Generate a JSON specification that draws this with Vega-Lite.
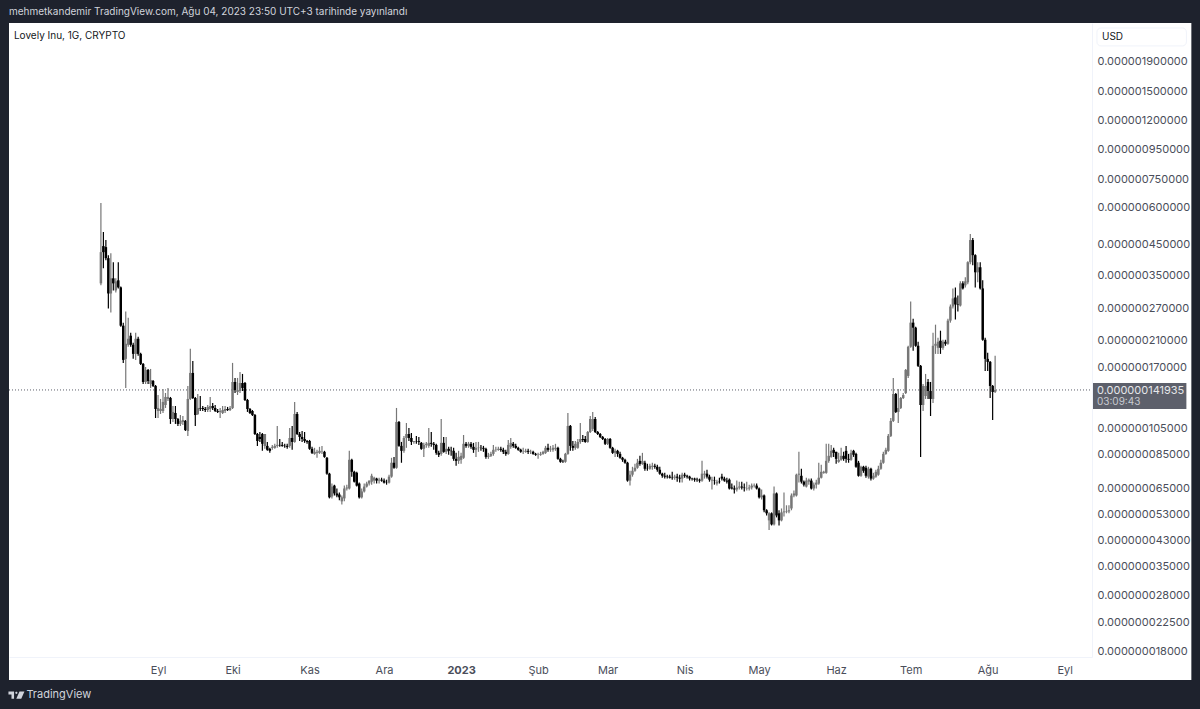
{
  "$schema": "https://vega.github.io/schema/vega-lite/v5.json",
  "width": 1083,
  "height": 634,
  "autosize": "none",
  "padding": {"left": 9, "top": 23, "right": 108, "bottom": 52},
  "background": "#1e222d",
  "title": {
    "text": "mehmetkandemir TradingView.com, Ağu 04, 2023 23:50 UTC+3 tarihinde yayınlandı",
    "anchor": "start",
    "frame": "group",
    "offset": 6,
    "font": "Inter",
    "fontSize": 10,
    "fontWeight": "normal",
    "color": "#d1d4dc"
  },
  "config": {"view": {"stroke": null}},
  "datasets": {
    "candles": [
      {"d":"2022-08-09","o":329.8,"h":623,"l":324.6,"c":422.2},
      {"d":"2022-08-10","o":442.9,"h":495,"l":371.7,"c":422.2},
      {"d":"2022-08-11","o":439.4,"h":464.6,"l":396.1,"c":402.5},
      {"d":"2022-08-12","o":402.5,"h":412.2,"l":270.2,"c":304.5},
      {"d":"2022-08-13","o":304.5,"h":418.9,"l":261.8,"c":343.2},
      {"d":"2022-08-14","o":343.2,"h":389.9,"l":311.9,"c":329.8},
      {"d":"2022-08-15","o":311.9,"h":343.2,"l":307,"c":335.1},
      {"d":"2022-08-16","o":337.8,"h":389.9,"l":316.9,"c":319.5},
      {"d":"2022-08-17","o":319.5,"h":322,"l":234.2,"c":236},
      {"d":"2022-08-18","o":236,"h":241.7,"l":175.8,"c":180},
      {"d":"2022-08-19","o":181.5,"h":263.9,"l":144.2,"c":204.5},
      {"d":"2022-08-20","o":202.9,"h":251.5,"l":199.7,"c":212.8},
      {"d":"2022-08-21","o":218,"h":223.2,"l":199.7,"c":202.9},
      {"d":"2022-08-22","o":202.9,"h":206.2,"l":181.5,"c":188.8},
      {"d":"2022-08-23","o":188.8,"h":223.2,"l":180,"c":212.8},
      {"d":"2022-08-24","o":212.8,"h":216.2,"l":185.9,"c":188.8},
      {"d":"2022-08-25","o":188.8,"h":190.4,"l":173,"c":174.4},
      {"d":"2022-08-26","o":174.4,"h":175.8,"l":148.8,"c":151.2},
      {"d":"2022-08-27","o":151.2,"h":170.3,"l":148.8,"c":166.3},
      {"d":"2022-08-28","o":166.3,"h":167.6,"l":148.8,"c":152.4},
      {"d":"2022-08-29","o":148.8,"h":167.6,"l":144.2,"c":153.6},
      {"d":"2022-08-30","o":152.4,"h":153.6,"l":145.3,"c":146.5},
      {"d":"2022-08-31","o":146.5,"h":147.6,"l":113.7,"c":122.1},
      {"d":"2022-09-01","o":120.2,"h":136.4,"l":113.7,"c":123.1},
      {"d":"2022-09-02","o":120.2,"h":132.2,"l":117.4,"c":122.1},
      {"d":"2022-09-03","o":120.2,"h":143,"l":118.3,"c":129.1},
      {"d":"2022-09-04","o":126,"h":138.6,"l":123.1,"c":134.3},
      {"d":"2022-09-05","o":132.2,"h":144.2,"l":130.1,"c":134.3},
      {"d":"2022-09-06","o":133.2,"h":134.3,"l":108.5,"c":112.8},
      {"d":"2022-09-07","o":112.8,"h":125,"l":110.2,"c":119.3},
      {"d":"2022-09-08","o":118.3,"h":125,"l":108.5,"c":112.8},
      {"d":"2022-09-09","o":112.8,"h":113.7,"l":106.8,"c":108.5},
      {"d":"2022-09-10","o":108.5,"h":116.4,"l":106.8,"c":111.1},
      {"d":"2022-09-11","o":110.2,"h":115.5,"l":107.6,"c":111.9},
      {"d":"2022-09-12","o":111.1,"h":111.9,"l":102.6,"c":103.4},
      {"d":"2022-09-13","o":102.6,"h":146.5,"l":98.7,"c":132.2},
      {"d":"2022-09-14","o":132.2,"h":196.5,"l":131.1,"c":162.4},
      {"d":"2022-09-15","o":162.4,"h":178.6,"l":132.2,"c":133.2},
      {"d":"2022-09-16","o":133.2,"h":134.3,"l":106.8,"c":116.4},
      {"d":"2022-09-17","o":117.4,"h":137.5,"l":116.4,"c":123.1},
      {"d":"2022-09-18","o":123.1,"h":135.3,"l":120.2,"c":122.6},
      {"d":"2022-09-19","o":123.1,"h":125,"l":120.2,"c":122.1},
      {"d":"2022-09-20","o":122.1,"h":124.1,"l":119.3,"c":121.1},
      {"d":"2022-09-21","o":121.1,"h":126,"l":119.3,"c":124.1},
      {"d":"2022-09-22","o":122.1,"h":134.3,"l":119.3,"c":125},
      {"d":"2022-09-23","o":125,"h":128.1,"l":121.1,"c":123.1},
      {"d":"2022-09-24","o":123.1,"h":126,"l":119.3,"c":120.2},
      {"d":"2022-09-25","o":120.2,"h":122.1,"l":118.3,"c":119.3},
      {"d":"2022-09-26","o":119.3,"h":123.1,"l":113.7,"c":120.2},
      {"d":"2022-09-27","o":118.3,"h":125,"l":117.4,"c":121.1},
      {"d":"2022-09-28","o":120.2,"h":125,"l":118.3,"c":122.1},
      {"d":"2022-09-29","o":122.1,"h":124.1,"l":120.2,"c":121.1},
      {"d":"2022-09-30","o":121.1,"h":125,"l":120.2,"c":123.1},
      {"d":"2022-10-01","o":123.1,"h":175.8,"l":122.1,"c":151.2},
      {"d":"2022-10-02","o":151.2,"h":156.1,"l":138.6,"c":141.9},
      {"d":"2022-10-03","o":139.7,"h":156.1,"l":136.4,"c":141.9},
      {"d":"2022-10-04","o":140.8,"h":163.7,"l":138.6,"c":150},
      {"d":"2022-10-05","o":150,"h":161.1,"l":140.8,"c":144.2},
      {"d":"2022-10-06","o":150,"h":151.2,"l":130.1,"c":131.1},
      {"d":"2022-10-07","o":131.1,"h":132.2,"l":119.3,"c":122.1},
      {"d":"2022-10-08","o":122.1,"h":123.1,"l":117.4,"c":118.3},
      {"d":"2022-10-09","o":120.2,"h":121.1,"l":115.5,"c":116.4},
      {"d":"2022-10-10","o":116.4,"h":117.4,"l":99.4,"c":100.2},
      {"d":"2022-10-11","o":100.2,"h":101,"l":91.2,"c":94.8},
      {"d":"2022-10-12","o":97.9,"h":101.8,"l":94.1,"c":96.3},
      {"d":"2022-10-13","o":100.2,"h":101,"l":87.7,"c":92.7},
      {"d":"2022-10-14","o":91.2,"h":100.2,"l":89.1,"c":100.2},
      {"d":"2022-10-15","o":91.2,"h":94.1,"l":87.7,"c":88.4},
      {"d":"2022-10-16","o":89.1,"h":89.8,"l":86.3,"c":87.7},
      {"d":"2022-10-17","o":89.8,"h":91.9,"l":88.4,"c":90.5},
      {"d":"2022-10-18","o":89.8,"h":92.7,"l":89.1,"c":91.2},
      {"d":"2022-10-19","o":91.2,"h":106.8,"l":89.8,"c":91.9},
      {"d":"2022-10-20","o":91.9,"h":96.3,"l":90.5,"c":91.6},
      {"d":"2022-10-21","o":91.9,"h":94.1,"l":90.5,"c":91.2},
      {"d":"2022-10-22","o":91.2,"h":92.7,"l":89.8,"c":91},
      {"d":"2022-10-23","o":91.2,"h":92.7,"l":89.1,"c":90.5},
      {"d":"2022-10-24","o":91.2,"h":105.1,"l":89.8,"c":97.1},
      {"d":"2022-10-25","o":97.1,"h":106.8,"l":88.4,"c":94.1},
      {"d":"2022-10-26","o":94.1,"h":129.1,"l":93.4,"c":117.4},
      {"d":"2022-10-27","o":117.4,"h":119.3,"l":99.4,"c":100.2},
      {"d":"2022-10-28","o":100.2,"h":101.8,"l":94.8,"c":97.9},
      {"d":"2022-10-29","o":97.9,"h":102.6,"l":94.1,"c":96.3},
      {"d":"2022-10-30","o":96.3,"h":101.8,"l":93.4,"c":94.8},
      {"d":"2022-10-31","o":94.8,"h":95.6,"l":92.7,"c":94.1},
      {"d":"2022-11-01","o":94.8,"h":95.6,"l":88.4,"c":89.1},
      {"d":"2022-11-02","o":89.1,"h":90.5,"l":85.6,"c":86.3},
      {"d":"2022-11-03","o":85.6,"h":89.8,"l":85,"c":87},
      {"d":"2022-11-04","o":86.3,"h":88.4,"l":83,"c":87},
      {"d":"2022-11-05","o":86.3,"h":90.5,"l":85.6,"c":87.7},
      {"d":"2022-11-06","o":87,"h":91.2,"l":85.6,"c":87.2},
      {"d":"2022-11-07","o":87,"h":87.7,"l":83,"c":83.6},
      {"d":"2022-11-08","o":83,"h":83.6,"l":72.6,"c":73.2},
      {"d":"2022-11-09","o":73.2,"h":73.7,"l":60.2,"c":60.7},
      {"d":"2022-11-10","o":61.1,"h":67.7,"l":60.2,"c":66.1},
      {"d":"2022-11-11","o":66.6,"h":67.1,"l":61.6,"c":62.6},
      {"d":"2022-11-12","o":62.6,"h":65.1,"l":60.7,"c":61.6},
      {"d":"2022-11-13","o":62.1,"h":63.1,"l":59.3,"c":60.7},
      {"d":"2022-11-14","o":58.8,"h":61.6,"l":57.4,"c":60.7},
      {"d":"2022-11-15","o":60.2,"h":66.6,"l":58.8,"c":65.1},
      {"d":"2022-11-16","o":65.1,"h":67.1,"l":64.1,"c":65.6},
      {"d":"2022-11-17","o":65.1,"h":87.7,"l":64.6,"c":81.7},
      {"d":"2022-11-18","o":81.7,"h":82.3,"l":71.5,"c":74.3},
      {"d":"2022-11-19","o":74.3,"h":74.9,"l":68.2,"c":68.7},
      {"d":"2022-11-20","o":73.7,"h":74.3,"l":66.1,"c":66.6},
      {"d":"2022-11-21","o":67.7,"h":68.2,"l":60.2,"c":60.7},
      {"d":"2022-11-22","o":60.7,"h":65.1,"l":60.2,"c":63.6},
      {"d":"2022-11-23","o":63.6,"h":67.7,"l":63.1,"c":66.1},
      {"d":"2022-11-24","o":66.1,"h":68.7,"l":65.6,"c":67.7},
      {"d":"2022-11-25","o":67.7,"h":69.3,"l":66.6,"c":69.3},
      {"d":"2022-11-26","o":68.7,"h":73.2,"l":67.1,"c":72},
      {"d":"2022-11-27","o":69.3,"h":71.5,"l":67.7,"c":70.9},
      {"d":"2022-11-28","o":70.4,"h":70.9,"l":67.7,"c":69.3},
      {"d":"2022-11-29","o":69.3,"h":70.9,"l":67.7,"c":69.8},
      {"d":"2022-11-30","o":69.8,"h":70.9,"l":68.7,"c":69.3},
      {"d":"2022-12-01","o":69.3,"h":70.4,"l":67.7,"c":68.2},
      {"d":"2022-12-02","o":68.2,"h":69.8,"l":67.1,"c":68.1},
      {"d":"2022-12-03","o":68.2,"h":72.6,"l":67.7,"c":71.5},
      {"d":"2022-12-04","o":71.5,"h":83,"l":70.9,"c":79.8},
      {"d":"2022-12-05","o":79.8,"h":83.6,"l":76.1,"c":76.7},
      {"d":"2022-12-06","o":76.7,"h":123.1,"l":76.1,"c":110.2},
      {"d":"2022-12-07","o":110.2,"h":111.1,"l":90.5,"c":91.2},
      {"d":"2022-12-08","o":91.2,"h":94.1,"l":79.8,"c":87.7},
      {"d":"2022-12-09","o":87.7,"h":98.7,"l":86.3,"c":97.1},
      {"d":"2022-12-10","o":97.1,"h":109.3,"l":89.8,"c":100.2},
      {"d":"2022-12-11","o":100.2,"h":105.1,"l":94.8,"c":97.1},
      {"d":"2022-12-12","o":97.1,"h":101,"l":91.9,"c":94.1},
      {"d":"2022-12-13","o":94.1,"h":94.8,"l":92.7,"c":94.8},
      {"d":"2022-12-14","o":94.8,"h":98.7,"l":92.7,"c":94.6},
      {"d":"2022-12-15","o":94.8,"h":97.9,"l":91.9,"c":94.1},
      {"d":"2022-12-16","o":93.4,"h":94.1,"l":88.4,"c":89.1},
      {"d":"2022-12-17","o":89.1,"h":93.4,"l":83.6,"c":91.9},
      {"d":"2022-12-18","o":91.9,"h":94.1,"l":89.8,"c":92.7},
      {"d":"2022-12-19","o":91.2,"h":105.1,"l":89.8,"c":93.4},
      {"d":"2022-12-20","o":93.4,"h":101.8,"l":90.5,"c":92.7},
      {"d":"2022-12-21","o":92.7,"h":94.1,"l":88.4,"c":91.9},
      {"d":"2022-12-22","o":91.9,"h":92.7,"l":85,"c":86.3},
      {"d":"2022-12-23","o":86.3,"h":87.7,"l":83.6,"c":85},
      {"d":"2022-12-24","o":85.6,"h":112.8,"l":84.3,"c":93.4},
      {"d":"2022-12-25","o":93.4,"h":97.9,"l":86.3,"c":87},
      {"d":"2022-12-26","o":87,"h":97.9,"l":85.6,"c":89.1},
      {"d":"2022-12-27","o":89.1,"h":90.5,"l":85,"c":87.7},
      {"d":"2022-12-28","o":87.7,"h":90.5,"l":84.3,"c":87.5},
      {"d":"2022-12-29","o":87.7,"h":89.8,"l":81,"c":82.3},
      {"d":"2022-12-30","o":82.3,"h":86.3,"l":77.9,"c":81},
      {"d":"2022-12-31","o":81,"h":87.7,"l":79.1,"c":83.6},
      {"d":"2023-01-01","o":81.7,"h":86.3,"l":79.1,"c":84.3},
      {"d":"2023-01-02","o":83,"h":99.4,"l":82.3,"c":92.7},
      {"d":"2023-01-03","o":92.7,"h":94.1,"l":89.8,"c":91.2},
      {"d":"2023-01-04","o":91.2,"h":94.1,"l":89.8,"c":92.7},
      {"d":"2023-01-05","o":92.7,"h":94.1,"l":89.1,"c":90.5},
      {"d":"2023-01-06","o":90.5,"h":93.4,"l":86.3,"c":88.4},
      {"d":"2023-01-07","o":88.4,"h":94.1,"l":83.6,"c":89.8},
      {"d":"2023-01-08","o":89.8,"h":94.1,"l":87,"c":90},
      {"d":"2023-01-09","o":89.8,"h":91.9,"l":87.7,"c":89.6},
      {"d":"2023-01-10","o":89.8,"h":91.2,"l":87,"c":89.1},
      {"d":"2023-01-11","o":89.1,"h":89.8,"l":82.3,"c":83.6},
      {"d":"2023-01-12","o":83.6,"h":86.3,"l":82.3,"c":84.3},
      {"d":"2023-01-13","o":84.3,"h":87,"l":83.6,"c":85.6},
      {"d":"2023-01-14","o":85.6,"h":91.9,"l":84.3,"c":88.4},
      {"d":"2023-01-15","o":88.4,"h":90.5,"l":87,"c":88.6},
      {"d":"2023-01-16","o":88.4,"h":90.5,"l":87.7,"c":89.1},
      {"d":"2023-01-17","o":89.1,"h":90.5,"l":87,"c":88.4},
      {"d":"2023-01-18","o":88.4,"h":89.8,"l":85.6,"c":87},
      {"d":"2023-01-19","o":87,"h":88.4,"l":84.3,"c":85.6},
      {"d":"2023-01-20","o":85.6,"h":95.6,"l":85,"c":91.9},
      {"d":"2023-01-21","o":90.5,"h":97.1,"l":89.1,"c":93.4},
      {"d":"2023-01-22","o":92.7,"h":94.1,"l":89.8,"c":91.2},
      {"d":"2023-01-23","o":91.2,"h":92.7,"l":89.1,"c":89.8},
      {"d":"2023-01-24","o":89.8,"h":90.5,"l":87.7,"c":88.4},
      {"d":"2023-01-25","o":88.4,"h":89.1,"l":86.3,"c":87},
      {"d":"2023-01-26","o":87,"h":89.8,"l":85.6,"c":87.2},
      {"d":"2023-01-27","o":87,"h":89.1,"l":86.3,"c":87.7},
      {"d":"2023-01-28","o":87.7,"h":89.1,"l":85.6,"c":87},
      {"d":"2023-01-29","o":87,"h":88.4,"l":85.6,"c":87.2},
      {"d":"2023-01-30","o":87,"h":87.7,"l":85,"c":85.6},
      {"d":"2023-01-31","o":85.6,"h":86.3,"l":84.3,"c":85},
      {"d":"2023-02-01","o":85,"h":86.3,"l":82.3,"c":85.2},
      {"d":"2023-02-02","o":85,"h":87,"l":84.3,"c":85.6},
      {"d":"2023-02-03","o":85.6,"h":87.7,"l":85,"c":87},
      {"d":"2023-02-04","o":86.3,"h":91.2,"l":85.6,"c":89.8},
      {"d":"2023-02-05","o":89.8,"h":92.7,"l":87,"c":88.4},
      {"d":"2023-02-06","o":88.4,"h":91.2,"l":87,"c":88.6},
      {"d":"2023-02-07","o":88.4,"h":91.9,"l":87,"c":89.8},
      {"d":"2023-02-08","o":89.1,"h":92.7,"l":87.7,"c":89.8},
      {"d":"2023-02-09","o":89.8,"h":90.5,"l":81.7,"c":82.3},
      {"d":"2023-02-10","o":82.3,"h":83,"l":79.8,"c":80.4},
      {"d":"2023-02-11","o":80.4,"h":81.7,"l":79.8,"c":80.2},
      {"d":"2023-02-12","o":80.4,"h":86.3,"l":79.8,"c":85.6},
      {"d":"2023-02-13","o":85.6,"h":118.3,"l":85,"c":106.8},
      {"d":"2023-02-14","o":106.8,"h":107.6,"l":87.7,"c":91.2},
      {"d":"2023-02-15","o":91.2,"h":94.8,"l":87.7,"c":89.8},
      {"d":"2023-02-16","o":89.8,"h":94.8,"l":88.4,"c":92.7},
      {"d":"2023-02-17","o":89.8,"h":96.3,"l":89.1,"c":94.1},
      {"d":"2023-02-18","o":94.1,"h":109.3,"l":92.7,"c":96.3},
      {"d":"2023-02-19","o":96.3,"h":99.4,"l":94.1,"c":95.6},
      {"d":"2023-02-20","o":96.3,"h":98.7,"l":93.4,"c":94.1},
      {"d":"2023-02-21","o":94.1,"h":102.6,"l":93.4,"c":101.8},
      {"d":"2023-02-22","o":101.8,"h":115.5,"l":101,"c":112.8},
      {"d":"2023-02-23","o":104.3,"h":119.3,"l":102.6,"c":112.8},
      {"d":"2023-02-24","o":112.8,"h":114.6,"l":101,"c":101.8},
      {"d":"2023-02-25","o":101.8,"h":102.6,"l":99.4,"c":100.2},
      {"d":"2023-02-26","o":100.2,"h":101,"l":97.1,"c":97.9},
      {"d":"2023-02-27","o":97.9,"h":98.7,"l":95.6,"c":96.3},
      {"d":"2023-02-28","o":96.3,"h":97.1,"l":91.9,"c":92.7},
      {"d":"2023-03-01","o":92.7,"h":97.1,"l":91.9,"c":96.3},
      {"d":"2023-03-02","o":96.3,"h":97.1,"l":89.1,"c":89.8},
      {"d":"2023-03-03","o":89.8,"h":90.5,"l":85.6,"c":86.3},
      {"d":"2023-03-04","o":86.3,"h":89.1,"l":83.6,"c":87.7},
      {"d":"2023-03-05","o":87.7,"h":88.4,"l":83.6,"c":85.6},
      {"d":"2023-03-06","o":85.6,"h":87,"l":82.3,"c":83},
      {"d":"2023-03-07","o":83,"h":83.6,"l":80.4,"c":81.7},
      {"d":"2023-03-08","o":81.7,"h":82.3,"l":79.1,"c":79.8},
      {"d":"2023-03-09","o":79.8,"h":80.4,"l":68.7,"c":69.3},
      {"d":"2023-03-10","o":69.3,"h":74.9,"l":66.6,"c":72.6},
      {"d":"2023-03-11","o":72.6,"h":77.3,"l":71.5,"c":74.9},
      {"d":"2023-03-12","o":74.9,"h":79.1,"l":74.3,"c":76.7},
      {"d":"2023-03-13","o":76.7,"h":82.3,"l":76.1,"c":79.8},
      {"d":"2023-03-14","o":81,"h":84.3,"l":77.9,"c":79.1},
      {"d":"2023-03-15","o":79.1,"h":86.3,"l":78.5,"c":81},
      {"d":"2023-03-16","o":79.8,"h":81,"l":74.9,"c":76.1},
      {"d":"2023-03-17","o":76.1,"h":79.1,"l":74.9,"c":76},
      {"d":"2023-03-18","o":76.1,"h":79.1,"l":75.5,"c":77.9},
      {"d":"2023-03-19","o":77.3,"h":79.8,"l":75.5,"c":77.9},
      {"d":"2023-03-20","o":77.9,"h":79.1,"l":76.1,"c":77.3},
      {"d":"2023-03-21","o":77.3,"h":78.5,"l":74.3,"c":75.5},
      {"d":"2023-03-22","o":75.5,"h":77.3,"l":72.6,"c":73.2},
      {"d":"2023-03-23","o":73.2,"h":73.7,"l":70.9,"c":72},
      {"d":"2023-03-24","o":72,"h":73.7,"l":70.4,"c":71.5},
      {"d":"2023-03-25","o":71.5,"h":72.6,"l":70.4,"c":71.3},
      {"d":"2023-03-26","o":71.5,"h":72.6,"l":70.4,"c":70.9},
      {"d":"2023-03-27","o":70.9,"h":74.3,"l":69.8,"c":70.7},
      {"d":"2023-03-28","o":70.9,"h":72.6,"l":69.8,"c":71.5},
      {"d":"2023-03-29","o":71.5,"h":73.2,"l":68.7,"c":70.9},
      {"d":"2023-03-30","o":70.9,"h":72.6,"l":68.2,"c":70.4},
      {"d":"2023-03-31","o":70.4,"h":73.7,"l":68.2,"c":72.6},
      {"d":"2023-04-01","o":72.6,"h":73.7,"l":70.9,"c":72},
      {"d":"2023-04-02","o":72,"h":72.6,"l":70.4,"c":71.5},
      {"d":"2023-04-03","o":71.5,"h":72,"l":69.3,"c":70.4},
      {"d":"2023-04-04","o":70.4,"h":70.9,"l":69.3,"c":70.2},
      {"d":"2023-04-05","o":70.4,"h":70.9,"l":68.7,"c":69.8},
      {"d":"2023-04-06","o":69.8,"h":70.9,"l":68.7,"c":69.6},
      {"d":"2023-04-07","o":69.8,"h":70.4,"l":68.2,"c":69.3},
      {"d":"2023-04-08","o":69.3,"h":81,"l":68.7,"c":73.2},
      {"d":"2023-04-09","o":72.6,"h":74.9,"l":70.4,"c":73.2},
      {"d":"2023-04-10","o":73.2,"h":75.5,"l":70.4,"c":71.5},
      {"d":"2023-04-11","o":71.5,"h":72.6,"l":68.7,"c":69.8},
      {"d":"2023-04-12","o":69.3,"h":71.5,"l":64.6,"c":69.8},
      {"d":"2023-04-13","o":69.3,"h":71.5,"l":67.1,"c":69.1},
      {"d":"2023-04-14","o":67.7,"h":69.8,"l":66.6,"c":68.7},
      {"d":"2023-04-15","o":68.7,"h":70.9,"l":67.7,"c":68.5},
      {"d":"2023-04-16","o":71.5,"h":73.2,"l":69.3,"c":70.4},
      {"d":"2023-04-17","o":70.4,"h":71.5,"l":68.7,"c":69.3},
      {"d":"2023-04-18","o":69.3,"h":70.9,"l":67.7,"c":68.7},
      {"d":"2023-04-19","o":69.8,"h":70.4,"l":64.6,"c":65.1},
      {"d":"2023-04-20","o":65.6,"h":67.7,"l":64.6,"c":65.1},
      {"d":"2023-04-21","o":65.1,"h":66.6,"l":62.6,"c":64.6},
      {"d":"2023-04-22","o":64.6,"h":69.3,"l":63.6,"c":65.6},
      {"d":"2023-04-23","o":65.6,"h":68.7,"l":64.6,"c":66.1},
      {"d":"2023-04-24","o":66.1,"h":68.7,"l":64.6,"c":65.6},
      {"d":"2023-04-25","o":65.6,"h":67.7,"l":63.6,"c":65.4},
      {"d":"2023-04-26","o":65.1,"h":68.7,"l":64.1,"c":65.3},
      {"d":"2023-04-27","o":65.1,"h":67.1,"l":64.1,"c":65.6},
      {"d":"2023-04-28","o":65.6,"h":67.7,"l":64.6,"c":66.6},
      {"d":"2023-04-29","o":66.6,"h":67.7,"l":65.6,"c":66.8},
      {"d":"2023-04-30","o":66.6,"h":67.7,"l":64.6,"c":65.1},
      {"d":"2023-05-01","o":65.1,"h":65.6,"l":60.2,"c":60.7},
      {"d":"2023-05-02","o":60.7,"h":64.6,"l":59.7,"c":61.6},
      {"d":"2023-05-03","o":61.6,"h":62.1,"l":53.9,"c":54.8},
      {"d":"2023-05-04","o":54.8,"h":55.2,"l":52.6,"c":53.5},
      {"d":"2023-05-05","o":50.6,"h":53.9,"l":46.9,"c":53.5},
      {"d":"2023-05-06","o":53.5,"h":53.9,"l":48.6,"c":49},
      {"d":"2023-05-07","o":49,"h":66.1,"l":48.6,"c":62.6},
      {"d":"2023-05-08","o":62.6,"h":63.1,"l":51.8,"c":52.6},
      {"d":"2023-05-09","o":53.5,"h":54.8,"l":48.6,"c":50.6},
      {"d":"2023-05-10","o":50.6,"h":55.6,"l":50.2,"c":53.9},
      {"d":"2023-05-11","o":53.9,"h":63.1,"l":52.2,"c":54.3},
      {"d":"2023-05-12","o":54.3,"h":57,"l":53.5,"c":54.5},
      {"d":"2023-05-13","o":54.3,"h":57,"l":53.5,"c":54.8},
      {"d":"2023-05-14","o":55.6,"h":62.6,"l":54.8,"c":61.6},
      {"d":"2023-05-15","o":61.6,"h":64.1,"l":60.7,"c":62.6},
      {"d":"2023-05-16","o":61.6,"h":73.2,"l":61.1,"c":72.6},
      {"d":"2023-05-17","o":72.6,"h":87,"l":68.2,"c":73.2},
      {"d":"2023-05-18","o":72,"h":76.1,"l":67.7,"c":68.7},
      {"d":"2023-05-19","o":68.7,"h":69.3,"l":66.1,"c":67.1},
      {"d":"2023-05-20","o":66.1,"h":70.9,"l":65.6,"c":69.3},
      {"d":"2023-05-21","o":68.7,"h":70.4,"l":67.1,"c":69.8},
      {"d":"2023-05-22","o":69.3,"h":70.4,"l":64.6,"c":65.1},
      {"d":"2023-05-23","o":65.1,"h":68.2,"l":64.1,"c":67.1},
      {"d":"2023-05-24","o":67.1,"h":69.8,"l":65.1,"c":68.2},
      {"d":"2023-05-25","o":67.7,"h":79.8,"l":67.1,"c":70.9},
      {"d":"2023-05-26","o":70.9,"h":78.5,"l":70.4,"c":74.3},
      {"d":"2023-05-27","o":73.7,"h":74.9,"l":73.2,"c":74.3},
      {"d":"2023-05-28","o":73.7,"h":92.7,"l":73.2,"c":81},
      {"d":"2023-05-29","o":81,"h":92.7,"l":79.8,"c":84.3},
      {"d":"2023-05-30","o":83.6,"h":91.9,"l":83,"c":87.7},
      {"d":"2023-05-31","o":88.4,"h":89.8,"l":83.6,"c":86.3},
      {"d":"2023-06-01","o":87,"h":87,"l":79.1,"c":82.3},
      {"d":"2023-06-02","o":80.4,"h":86.3,"l":79.8,"c":81.7},
      {"d":"2023-06-03","o":81.7,"h":89.8,"l":81,"c":84.3},
      {"d":"2023-06-04","o":84.3,"h":87,"l":81,"c":82.3},
      {"d":"2023-06-05","o":87.7,"h":91.2,"l":79.8,"c":82.3},
      {"d":"2023-06-06","o":82.3,"h":85.6,"l":79.8,"c":81.7},
      {"d":"2023-06-07","o":81.7,"h":88.4,"l":81,"c":86.3},
      {"d":"2023-06-08","o":87.7,"h":88.4,"l":83.6,"c":85},
      {"d":"2023-06-09","o":85.6,"h":86.3,"l":76.7,"c":77.3},
      {"d":"2023-06-10","o":79.8,"h":81,"l":71.5,"c":72},
      {"d":"2023-06-11","o":72,"h":77.9,"l":71.5,"c":77.3},
      {"d":"2023-06-12","o":77.3,"h":77.9,"l":73.7,"c":74.9},
      {"d":"2023-06-13","o":76.7,"h":77.9,"l":70.9,"c":72},
      {"d":"2023-06-14","o":71.5,"h":77.3,"l":70.4,"c":76.1},
      {"d":"2023-06-15","o":76.1,"h":76.7,"l":69.3,"c":70.4},
      {"d":"2023-06-16","o":70.4,"h":73.7,"l":69.8,"c":72},
      {"d":"2023-06-17","o":71.5,"h":75.5,"l":70.9,"c":74.3},
      {"d":"2023-06-18","o":72.6,"h":77.9,"l":72,"c":76.1},
      {"d":"2023-06-19","o":76.1,"h":81.7,"l":75.5,"c":79.8},
      {"d":"2023-06-20","o":79.8,"h":87,"l":79.1,"c":85.6},
      {"d":"2023-06-21","o":85.6,"h":89.8,"l":85,"c":88.4},
      {"d":"2023-06-22","o":87.7,"h":100.2,"l":87,"c":98.7},
      {"d":"2023-06-23","o":98.7,"h":113.7,"l":97.9,"c":111.1},
      {"d":"2023-06-24","o":111.1,"h":156.1,"l":110.2,"c":137.5},
      {"d":"2023-06-25","o":137.5,"h":138.6,"l":118.3,"c":119.3},
      {"d":"2023-06-26","o":119.3,"h":143,"l":109.3,"c":123.1},
      {"d":"2023-06-27","o":123.1,"h":134.3,"l":122.1,"c":133.2},
      {"d":"2023-06-28","o":133.2,"h":138.6,"l":132.2,"c":136.4},
      {"d":"2023-06-29","o":138.6,"h":167.6,"l":137.5,"c":166.3},
      {"d":"2023-06-30","o":158.6,"h":201.3,"l":156.1,"c":199.7},
      {"d":"2023-07-01","o":199.7,"h":285.8,"l":198.1,"c":241.7},
      {"d":"2023-07-02","o":241.7,"h":249.5,"l":193.4,"c":232.3},
      {"d":"2023-07-03","o":232.3,"h":234.2,"l":199.7,"c":201.3},
      {"d":"2023-07-04","o":201.3,"h":207.8,"l":170.3,"c":171.7},
      {"d":"2023-07-05","o":171.7,"h":173,"l":83.6,"c":126},
      {"d":"2023-07-06","o":126,"h":148.8,"l":120.2,"c":146.5},
      {"d":"2023-07-07","o":135.3,"h":161.1,"l":132.2,"c":146.5},
      {"d":"2023-07-08","o":151.2,"h":154.8,"l":132.2,"c":140.8},
      {"d":"2023-07-09","o":140.8,"h":151.2,"l":115.5,"c":132.2},
      {"d":"2023-07-10","o":132.2,"h":223.2,"l":128.1,"c":201.3},
      {"d":"2023-07-11","o":201.3,"h":237.9,"l":188.8,"c":204.5},
      {"d":"2023-07-12","o":198.1,"h":214.5,"l":188.8,"c":207.8},
      {"d":"2023-07-13","o":209.5,"h":226.8,"l":188.8,"c":198.1},
      {"d":"2023-07-14","o":198.1,"h":211.1,"l":194.9,"c":207.8},
      {"d":"2023-07-15","o":207.8,"h":211.1,"l":201.3,"c":204.5},
      {"d":"2023-07-16","o":204.5,"h":249.5,"l":202.9,"c":245.6},
      {"d":"2023-07-17","o":245.6,"h":279,"l":241.7,"c":274.6},
      {"d":"2023-07-18","o":274.6,"h":316.9,"l":270.2,"c":292.7},
      {"d":"2023-07-19","o":295,"h":319.5,"l":247.6,"c":279},
      {"d":"2023-07-20","o":279,"h":299.7,"l":263.9,"c":278},
      {"d":"2023-07-21","o":276.8,"h":335.1,"l":274.6,"c":329.8},
      {"d":"2023-07-22","o":329.8,"h":335.1,"l":314.4,"c":316.9},
      {"d":"2023-07-23","o":324.6,"h":346,"l":319.5,"c":335.1},
      {"d":"2023-07-24","o":332.4,"h":393,"l":327.2,"c":389.9},
      {"d":"2023-07-25","o":389.9,"h":487.4,"l":383.7,"c":464.6},
      {"d":"2023-07-26","o":464.6,"h":472.1,"l":380.7,"c":412.2},
      {"d":"2023-07-27","o":412.2,"h":415.5,"l":319.5,"c":360},
      {"d":"2023-07-28","o":360,"h":389.9,"l":332.4,"c":374.6},
      {"d":"2023-07-29","o":374.6,"h":389.9,"l":314.4,"c":316.9},
      {"d":"2023-07-30","o":316.9,"h":337.8,"l":209.5,"c":211.1},
      {"d":"2023-07-31","o":211.1,"h":214.5,"l":165,"c":181.5},
      {"d":"2023-08-01","o":181.5,"h":190.4,"l":165,"c":177.2},
      {"d":"2023-08-02","o":177.2,"h":178.6,"l":133.2,"c":146.5},
      {"d":"2023-08-03","o":146.5,"h":147.6,"l":111.9,"c":139.7},
      {"d":"2023-08-04","o":139.7,"h":185.9,"l":138.6,"c":141.935}
    ]
  },
  "encoding": {
    "x": {
      "field": "d",
      "type": "temporal",
      "title": null,
      "scale": {
        "type": "utc",
        "nice": false,
        "padding": 0,
        "domain": [
          {"year": 2022, "month": "jul", "date": 3, "utc": true},
          {"year": 2023, "month": "sep", "date": 12, "utc": true}
        ]
      },
      "axis": {
        "orient": "bottom",
        "zindex": 1,
        "grid": false,
        "ticks": false,
        "domainColor": "#f0f3fa",
        "labelFont": "Inter",
        "labelFontSize": 11,
        "labelColor": "#4a4e5a",
        "labelPadding": 7,
        "labelOverlap": false,
        "labelBound": false,
        "labelFlush": false,
        "labelFontWeight": {"condition": {"test": "utcmonth(datum.value) === 0", "value": "bold"}, "value": "normal"},
        "labelExpr": "['2023','Şub','Mar','Nis','May','Haz','Tem','Ağu','Eyl','Eki','Kas','Ara'][utcmonth(datum.value)]",
        "values": [
          {"year": 2022, "month": "sep", "date": 1, "utc": true},
          {"year": 2022, "month": "oct", "date": 1, "utc": true},
          {"year": 2022, "month": "nov", "date": 1, "utc": true},
          {"year": 2022, "month": "dec", "date": 1, "utc": true},
          {"year": 2023, "month": "jan", "date": 1, "utc": true},
          {"year": 2023, "month": "feb", "date": 1, "utc": true},
          {"year": 2023, "month": "mar", "date": 1, "utc": true},
          {"year": 2023, "month": "apr", "date": 1, "utc": true},
          {"year": 2023, "month": "may", "date": 1, "utc": true},
          {"year": 2023, "month": "jun", "date": 1, "utc": true},
          {"year": 2023, "month": "jul", "date": 1, "utc": true},
          {"year": 2023, "month": "aug", "date": 1, "utc": true},
          {"year": 2023, "month": "sep", "date": 1, "utc": true}
        ]
      }
    }
  },
  "layer": [
    {
      "data": {"values": [{"d": "2022-07-03", "d2": "2023-10-22", "p": 14.31, "p2": 2586}]},
      "mark": {"type": "rect", "fill": "#ffffff"},
      "encoding": {
        "x2": {"field": "d2"},
        "y": {
          "field": "p",
          "type": "quantitative",
          "title": null,
          "scale": {"type": "log", "nice": false, "zero": false, "domain": [17.17, 2586]},
          "axis": {
            "orient": "right",
            "zindex": 1,
            "grid": false,
            "ticks": false,
            "domainColor": "#f0f3fa",
            "labelFont": "Inter",
            "labelFontSize": 11,
            "labelColor": "#4a4e5a",
            "labelAlign": "left",
            "labelPadding": 5,
            "labelOverlap": false,
            "labelBound": false,
            "values": [1900, 1500, 1200, 950, 750, 600, 450, 350, 270, 210, 170, 105, 85, 65, 53, 43, 35, 28, 22.5, 18],
            "labelExpr": "format(datum.value * 1e-9, '.12f')"
          }
        },
        "y2": {"field": "p2"}
      }
    },
    {
      "data": {"values": [{"d": "2022-07-03", "d2": "2023-09-12", "p": 141.935}]},
      "mark": {"type": "rule", "color": "#5d606b", "strokeWidth": 1, "strokeDash": [1, 2]},
      "encoding": {
        "x2": {"field": "d2"},
        "y": {"field": "p", "type": "quantitative", "scale": {"type": "log", "nice": false, "zero": false, "domain": [17.17, 2586]}}
      }
    },
    {
      "data": {"name": "candles"},
      "mark": {"type": "rule", "strokeWidth": 1.2},
      "encoding": {
        "y": {"field": "l", "type": "quantitative", "scale": {"type": "log", "nice": false, "zero": false, "domain": [17.17, 2586]}},
        "y2": {"field": "h"},
        "color": {"condition": {"test": "datum.c >= datum.o", "value": "#777777"}, "value": "#000000"}
      }
    },
    {
      "data": {"name": "candles"},
      "mark": {"type": "bar", "size": 2.5},
      "encoding": {
        "y": {"field": "o", "type": "quantitative", "scale": {"type": "log", "nice": false, "zero": false, "domain": [17.17, 2586]}},
        "y2": {"field": "c"},
        "color": {"condition": {"test": "datum.c >= datum.o", "value": "#777777"}, "value": "#000000"}
      }
    },
    {
      "data": {"values": [{"d": "2023-09-12", "d2": "2023-10-20", "p": 122.1, "p2": 150}]},
      "mark": {"type": "rect", "fill": "#5d606b"},
      "encoding": {
        "x2": {"field": "d2"},
        "y": {"field": "p", "type": "quantitative", "scale": {"type": "log", "nice": false, "zero": false, "domain": [17.17, 2586]}},
        "y2": {"field": "p2"}
      }
    },
    {
      "data": {"values": [{"d": "2023-09-14", "d2": "2023-10-20", "p": 2157, "p2": 2486}]},
      "mark": {"type": "rect", "fill": "#ffffff", "stroke": "#f0f3fa", "cornerRadius": 4},
      "encoding": {
        "x2": {"field": "d2"},
        "y": {"field": "p", "type": "quantitative", "scale": {"type": "log", "nice": false, "zero": false, "domain": [17.17, 2586]}},
        "y2": {"field": "p2"}
      }
    },
    {
      "data": {"values": [
        {"d": "2022-07-05", "p": 2334, "label": "Lovely Inu, 1G, CRYPTO"},
        {"d": "2023-09-16", "p": 2315, "label": "USD"}
      ]},
      "mark": {"type": "text", "align": "left", "baseline": "middle", "font": "Inter", "fontSize": 10, "color": "#131722"},
      "encoding": {
        "y": {"field": "p", "type": "quantitative", "scale": {"type": "log", "nice": false, "zero": false, "domain": [17.17, 2586]}},
        "text": {"field": "label"}
      }
    },
    {
      "data": {"values": [{"d": "2023-09-14", "p": 141.2, "label": "0.000000141935"}]},
      "mark": {"type": "text", "align": "left", "baseline": "middle", "font": "Inter", "fontSize": 11, "color": "#e6e7ea"},
      "encoding": {
        "y": {"field": "p", "type": "quantitative", "scale": {"type": "log", "nice": false, "zero": false, "domain": [17.17, 2586]}},
        "text": {"field": "label"}
      }
    },
    {
      "data": {"values": [{"d": "2023-09-14", "p": 128.6, "label": "03:09:43"}]},
      "mark": {"type": "text", "align": "left", "baseline": "middle", "font": "Inter", "fontSize": 10, "color": "#c8cad0"},
      "encoding": {
        "y": {"field": "p", "type": "quantitative", "scale": {"type": "log", "nice": false, "zero": false, "domain": [17.17, 2586]}},
        "text": {"field": "label"}
      }
    },
    {
      "data": {"values": [{"d": "2022-07-10", "p": 12.71, "label": "TradingView"}]},
      "mark": {"type": "text", "align": "left", "baseline": "middle", "font": "Inter", "fontSize": 11, "color": "#d1d4dc"},
      "encoding": {
        "y": {"field": "p", "type": "quantitative", "scale": {"type": "log", "nice": false, "zero": false, "domain": [17.17, 2586]}},
        "text": {"field": "label"}
      }
    },
    {
      "data": {"values": [{"d": "2022-07-06", "p": 12.71}]},
      "mark": {
        "type": "point",
        "filled": true,
        "opacity": 1,
        "color": "#d1d4dc",
        "size": 256,
        "shape": "M-1,-.45H-.3V.45H-.62V-.08H-1Z M-.15,-.28a.14,.14 0 1,0 .28,0a.14,.14 0 1,0 -.28,0Z M-.02,.45L.38,-.45H1L.6,.45Z"
      },
      "encoding": {
        "y": {"field": "p", "type": "quantitative", "scale": {"type": "log", "nice": false, "zero": false, "domain": [17.17, 2586]}}
      }
    }
  ]
}
